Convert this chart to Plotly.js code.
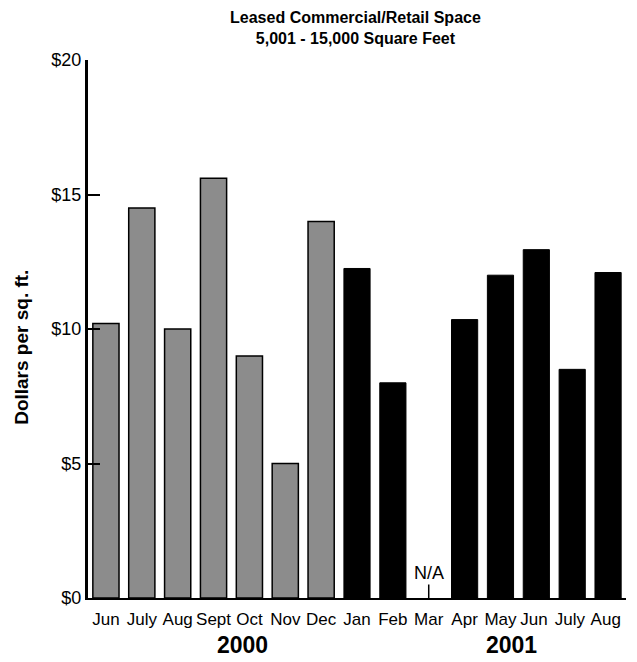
<!DOCTYPE html>
<html>
<head>
<meta charset="utf-8">
<script src="https://cdn.plot.ly/plotly-3.0.1.min.js"></script>
<style>html,body{margin:0;padding:0;background:#fff;}#chart{width:637px;height:662px;}</style>
</head>
<body>
<div id="chart"></div>
<script>
var months2000 = ["Jun", "July", "Aug", "Sept", "Oct", "Nov", "Dec"];
var values2000 = [10.2, 14.5, 10.0, 15.6, 9.0, 5.0, 14.0];
var months2001 = ["Jan", "Feb", "Mar", "Apr", "May", "Jun ", "July ", "Aug "];
var values2001 = [12.25, 8.0, null, 10.35, 12.0, 12.95, 8.5, 12.1];
var tickVals = [0, 5, 10, 15, 20];
var tickText = ["$0", "$5", "$10", "$15", "$20"];
var yearLabels = ["2000", "2001"];
var naMonth = "Mar";
var yTitle = "Dollars per sq. ft.";

var font = "Arial, Liberation Sans, sans-serif";

var traces = [
  {type: "bar", x: months2000, y: values2000, marker: {color: "#8c8c8c", line: {color: "#000", width: 1.5}}, hoverinfo: "x+y"},
  {type: "bar", x: months2001, y: values2001, marker: {color: "#000", line: {color: "#000", width: 1}}, hoverinfo: "x+y"}
];

var layout = {
  width: 637, height: 662,
  margin: {l: 88, r: 11, t: 60, b: 64},
  paper_bgcolor: "#fff", plot_bgcolor: "#fff",
  showlegend: false,
  bargap: 0.27,
  barmode: "group",
  font: {family: font, color: "#000", size: 17},
  title: {
    text: "<b>Leased Commercial/Retail Space<br>5,001 - 15,000 Square Feet</b>",
    font: {family: font, size: 16, color: "#000"},
    x: 0.558, xanchor: "center", xref: "container",
    y: 0.965, yanchor: "middle", yref: "container"
  },
  xaxis: {
    type: "category",
    categoryorder: "array",
    categoryarray: months2000.concat(months2001),
    showline: true, linecolor: "#000", linewidth: 2,
    ticks: "", showgrid: false, zeroline: false,
    tickangle: 0,
    ticklabelstandoff: 5,
    tickfont: {family: font, size: 17, color: "#000"},
    fixedrange: true
  },
  yaxis: {
    range: [0, 20],
    tickvals: tickVals, ticktext: tickText,
    ticks: "inside", ticklen: 12, tickwidth: 2, tickcolor: "#000",
    showline: true, linecolor: "#000", linewidth: 3,
    showgrid: false, zeroline: false,
    tickfont: {family: font, size: 18, color: "#000"}
  },
  annotations: [
    {x: 0, y: 9.3, xref: "paper", yref: "y", xshift: -66, text: "<b>" + yTitle + "</b>", textangle: -90, showarrow: false, xanchor: "center", yanchor: "middle", font: {family: font, size: 19, color: "#000"}},
    {x: naMonth, y: 0, xref: "x", yref: "y", text: "N/A", showarrow: true, arrowhead: 0, arrowwidth: 1.5, arrowcolor: "#000", ax: 0, ay: -25, font: {family: font, size: 18, color: "#000"}},
    {x: 3.82, y: -0.06, xref: "x", yref: "paper", text: "<b>" + yearLabels[0] + "</b>", showarrow: false, yanchor: "top", font: {family: font, size: 23, color: "#000"}},
    {x: 11.3, y: -0.06, xref: "x", yref: "paper", text: "<b>" + yearLabels[1] + "</b>", showarrow: false, yanchor: "top", font: {family: font, size: 23, color: "#000"}}
  ]
};

Plotly.newPlot("chart", traces, layout, {displayModeBar: false, staticPlot: true});
</script>
</body>
</html>
